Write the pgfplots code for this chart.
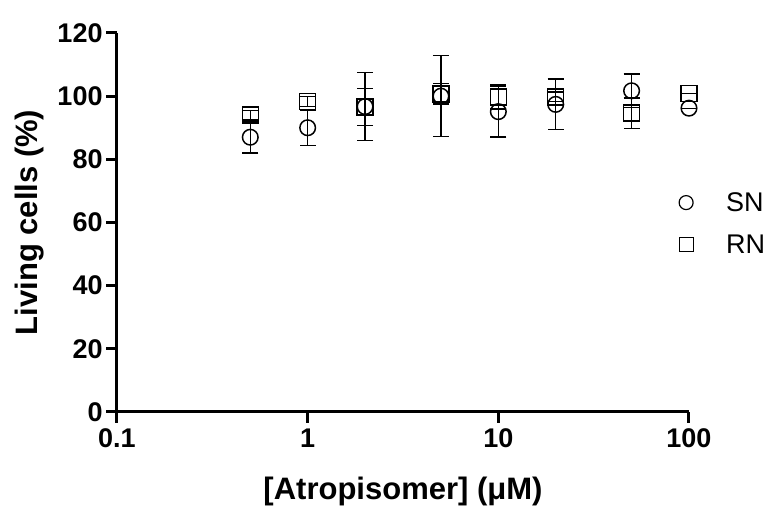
\documentclass[border=0pt]{standalone}
\usepackage{fontspec}
\setmainfont{Liberation Sans}
\usepackage{pgfplots}
\pgfplotsset{compat=1.18}

\newcommand{\tickfont}{\bfseries\fontsize{27}{31}\selectfont}
\newcommand{\labfont}{\bfseries\fontsize{31}{36}\selectfont}

\begin{document}
\begin{tikzpicture}
\useasboundingbox (0,0) rectangle (774pt,506pt);
\begin{axis}[
  at={(117pt,94pt)}, anchor=south west,
  scale only axis, width=572pt, height=379pt,
  xmode=log, xmin=0.1, xmax=100, ymin=0, ymax=120,
  axis x line*=bottom, axis y line*=left,
  axis line style={line width=3pt, -},
  xtick={0.1,1,10,100}, xticklabels={0.1,1,10,100},
  ytick={0,20,40,60,80,100,120}, yticklabels={0,20,40,60,80,100,120},
  minor x tick num=0, xminorticks=false,
  tick align=outside, major tick length=11pt,
  major tick style={line width=3pt, black},
  tick label style={font=\tickfont},
  xticklabel style={yshift=-2pt},
  xlabel={[Atropisomer] (μM)}, ylabel={Living cells (\%)},
  label style={font=\labfont},
  xlabel style={at={(axis description cs:0.5,-0.2322)}, anchor=base, inner sep=0pt},
  ylabel style={at={(axis description cs:-0.1388,0.5)}, anchor=base, rotate=0, inner sep=0pt},
  clip=false,
  legend style={at={(axis description cs:0.981,0.497)}, anchor=west, draw=none, fill=none,
    inner sep=0pt, outer sep=0pt, font=\fontsize{27}{31}\selectfont, row sep=22pt,
    nodes={inner sep=0pt}},
  legend cell align=left,
  reverse legend,
  legend image code/.code={\draw[#1] plot coordinates {(0pt,0pt)};
    \path[draw=none,fill=none] (-8pt,-8pt) rectangle (40pt,8pt);},
  legend image post style={mark size=7pt, mark options={line width=1.2pt, fill=white}},
]
\addplot[only marks, mark=square, mark size=8pt, mark options={line width=1.5pt, fill=white},
  error bars/.cd, y dir=both, y explicit,
  error bar style={line width=1.3pt},
  error mark options={rotate=90, mark size=8pt, line width=1.3pt}]
  coordinates {
  (0.5,94.0) +- (0,1.5)
  (1,98.3) +- (0,1.5)
  (2,96.6) +- (0,5.9)
  (5,100.7) +- (0,3.2)
  (10,99.7) +- (0,3.8)
  (20,99.8) +- (0,1.5)
  (50,94.6) +- (0,4.8)
  (100,100.9) +- (0,0)
  };
\addplot[only marks, mark=o, mark size=7.8pt, mark options={line width=1.5pt, fill=white},
  error bars/.cd, y dir=both, y explicit,
  error bar style={line width=1.3pt},
  error mark options={rotate=90, mark size=8pt, line width=1.3pt}]
  coordinates {
  (0.5,87.0) +- (0,5.0)
  (1,90.0) +- (0,5.6)
  (2,96.7) +- (0,10.7)
  (5,100.0) +- (0,12.8)
  (10,95.1) +- (0,8.0)
  (20,97.4) +- (0,8.0)
  (50,101.7) +- (0,5.3)
  (100,96.2) +- (0,0)
  };
\legend{RN,SN}
\end{axis}
\end{tikzpicture}
\end{document}
